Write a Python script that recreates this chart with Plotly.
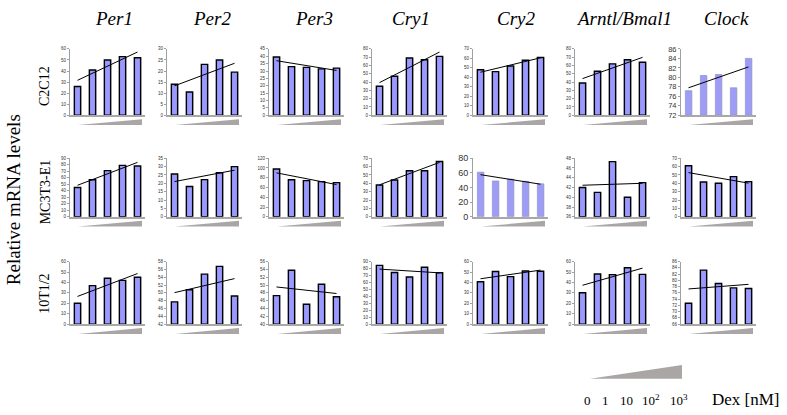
import numpy as np
import plotly.graph_objects as go

W, H = 787, 415

genes = ["Per1", "Per2", "Per3", "Cry1", "Cry2", "Arntl/Bmal1", "Clock"]
cell_lines = ["C2C12", "MC3T3-E1", "10T1/2"]
dex_labels = ["0", "1", "10", "10<sup>2</sup>", "10<sup>3</sup>"]
doses = [0, 1, 2, 3, 4]

# relative mRNA levels per gene (dose order 0,1,10,100,1000 nM)
c2c12 = {
    "Per1": [26, 41, 50, 53, 52],
    "Per2": [14, 10.5, 23, 25, 19.5],
    "Per3": [39.5, 33, 32.5, 31.5, 32],
    "Cry1": [35, 47, 69, 67, 71],
    "Cry2": [48, 46, 52, 58, 61],
    "Arntl/Bmal1": [39, 53, 62, 67, 64],
    "Clock": [77.2, 80.4, 80.6, 77.8, 84],
}
mc3t3 = {
    "Per1": [45, 57, 71, 79, 78],
    "Per2": [25.6, 18.1, 22.2, 26.3, 30],
    "Per3": [98, 76, 74, 72, 70],
    "Cry1": [38, 44, 55, 55, 66],
    "Cry2": [61, 49, 51.5, 48.5, 45],
    "Arntl/Bmal1": [42, 41, 47.3, 40, 43],
    "Clock": [61, 41.5, 40, 48, 42],
}
t10 = {
    "Per1": [20, 37, 44, 42, 45],
    "Per2": [47.7, 50.8, 54.8, 56.8, 49.2],
    "Per3": [47.3, 53.8, 45.1, 50.2, 47.0],
    "Cry1": [84.6, 74.3, 68, 82, 74],
    "Cry2": [40.7, 50.5, 45.6, 51, 50.8],
    "Arntl/Bmal1": [30.2, 48.1, 47.5, 54.1, 47.8],
    "Clock": [72.7, 83.3, 79, 77.6, 77.4],
}

# y-axis ticks (min, max, step) per panel
c2c12_ticks = [(0, 60, 10), (0, 30, 5), (0, 45, 5), (0, 80, 10), (0, 70, 10), (0, 80, 10), (72, 86, 2)]
mc3t3_ticks = [(0, 90, 10), (0, 35, 5), (0, 120, 20), (0, 70, 10), (0, 80, 20), (36, 48, 2), (0, 70, 10)]
t10_ticks = [(0, 60, 10), (42, 58, 2), (40, 56, 2), (0, 90, 10), (0, 60, 10), (0, 60, 10), (66, 86, 2)]

rows = [(c2c12, c2c12_ticks), (mc3t3, mc3t3_ticks), (t10, t10_ticks)]
light_panels = {(0, 6): 7.5, (1, 4): 9}

col_x = [70, 167, 269, 372, 473, 575, 681]
panel_w = 75
row_y = [(45, 113), (157, 217), (263, 327)]

def px(x):
    return x / W

def py(y):
    return 1 - y / H

fig = go.Figure()
shapes = []
annotations = []
layout = {}

for r, (data, ticks) in enumerate(rows):
    top, bot = row_y[r]
    for c, gene in enumerate(genes):
        idx = r * 7 + c + 1
        xs = "" if idx == 1 else str(idx)
        vals = data[gene]
        lo, hi, step = ticks[c]
        light = (r, c) in light_panels
        if light:
            marker = dict(color="#9d9cf6", line=dict(color="#8a89c8", width=0.6))
        else:
            marker = dict(color="#9999ff", line=dict(color="black", width=1.4))
        heights = [v - lo for v in vals]
        # soft shadow behind the bars
        fig.add_trace(go.Bar(x=[d + 0.05 for d in doses], y=heights, width=0.44, base=lo,
                             marker=dict(color="#dcdcdc", line=dict(width=0)),
                             xaxis="x" + xs, yaxis="y" + xs, showlegend=False, hoverinfo="skip"))
        fig.add_trace(go.Bar(x=doses, y=heights, base=lo, width=0.42, marker=marker,
                             xaxis="x" + xs, yaxis="y" + xs, showlegend=False))
        slope, intercept = np.polyfit(doses, vals, 1)
        fig.add_trace(go.Scatter(x=[doses[0], doses[-1]],
                                 y=[intercept + slope * doses[0], intercept + slope * doses[-1]],
                                 mode="lines", line=dict(color="black", width=1),
                                 xaxis="x" + xs, yaxis="y" + xs, showlegend=False))
        x0 = col_x[c]
        layout["xaxis" + xs] = dict(domain=[px(x0), px(x0 + panel_w)], range=[-0.5, 4.5],
                                    anchor="y" + xs, showticklabels=False, showgrid=False,
                                    zeroline=False, showline=True, linecolor="#a8a8a8",
                                    linewidth=2, ticks="", fixedrange=True)
        fsize = light_panels.get((r, c), 4.5)
        layout["yaxis" + xs] = dict(domain=[py(bot), py(top)], range=[lo, hi], tick0=lo, dtick=step,
                                    anchor="x" + xs, showgrid=False, zeroline=False, showline=True,
                                    linecolor="#a0a0a0", linewidth=1, ticks="outside", ticklen=2,
                                    tickcolor="#a0a0a0", tickfont=dict(size=fsize, color="#333",
                                                                       family="Liberation Sans"),
                                    fixedrange=True)
        # dose wedge
        wx0, wx1 = x0 + 8, x0 + 72
        wy_top, wy_bot = bot + 4, bot + 10
        shapes.append(dict(type="path", xref="paper", yref="paper",
                           path=f"M {px(wx0)},{py(wy_bot)} L {px(wx1)},{py(wy_top)} L {px(wx1)},{py(wy_bot)} Z",
                           fillcolor="#aaa6a6", line=dict(width=0)))

serif = "Liberation Serif, Times New Roman, serif"

# column titles
title_x = [114, 212, 314, 411, 516, 624, 726]
for gene, tx in zip(genes, title_x):
    annotations.append(dict(text=gene, x=px(tx), y=py(14), xref="paper", yref="paper",
                            xanchor="center", yanchor="middle", showarrow=False,
                            font=dict(family=serif, size=19, color="black", style="italic")))

# row labels
row_label_y = [83, 192, 296]
for name, ry in zip(cell_lines, row_label_y):
    annotations.append(dict(text=name, x=px(45), y=py(ry), xref="paper", yref="paper", textangle=-90,
                            xanchor="center", yanchor="middle", showarrow=False,
                            font=dict(family=serif, size=14, color="black")))
annotations.append(dict(text="Relative mRNA levels", x=px(13), y=py(200), xref="paper", yref="paper",
                        textangle=-90, xanchor="center", yanchor="middle", showarrow=False,
                        font=dict(family=serif, size=19, color="black")))

# dose legend wedge
shapes.append(dict(type="path", xref="paper", yref="paper",
                   path=f"M {px(590)},{py(383)} L {px(682)},{py(369)} L {px(682)},{py(383)} Z",
                   fillcolor="#aaa6a6", line=dict(width=0)))
dex_x = [587, 605, 626, 651, 679]
for lab, dx in zip(dex_labels, dex_x):
    annotations.append(dict(text=lab, x=px(dx), y=py(405), xref="paper", yref="paper", showarrow=False,
                            xanchor="center", yanchor="middle",
                            font=dict(family=serif, size=13, color="black")))
annotations.append(dict(text="Dex [nM]", x=px(746), y=py(404), xref="paper", yref="paper", showarrow=False,
                        xanchor="center", yanchor="middle",
                        font=dict(family=serif, size=17, color="black")))

fig.update_layout(width=W, height=H, margin=dict(l=0, r=0, t=0, b=0),
                  paper_bgcolor="white", plot_bgcolor="white", barmode="overlay",
                  shapes=shapes, annotations=annotations, **layout)
fig.write_html("out.html", config={"displayModeBar": False},
               post_script="document.body.style.margin='0';")
